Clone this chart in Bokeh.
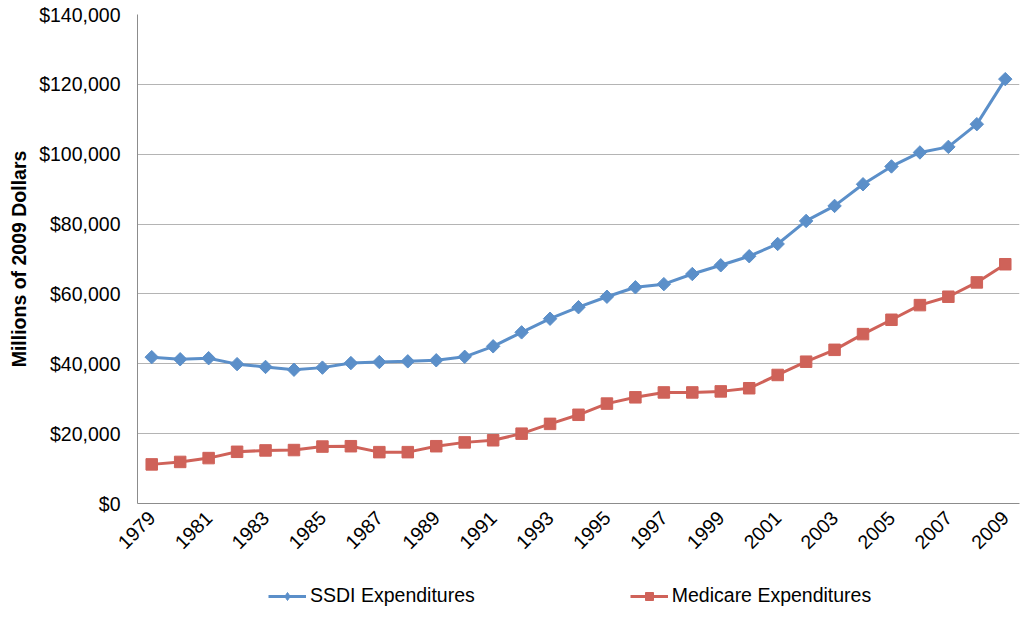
import math
from bokeh.plotting import figure
from bokeh.layouts import column
from bokeh.models import (Range1d, FixedTicker, NumeralTickFormatter, Legend, LegendItem)
from bokeh.embed import file_html
from bokeh.resources import INLINE

years = list(range(1979, 2010))
ssdi = [41900, 41300, 41600, 39900, 39100, 38300, 38900, 40200, 40500, 40700,
        41000, 42000, 45000, 49000, 52900, 56200, 59200, 61900, 62800, 65700,
        68200, 70800, 74300, 80900, 85200, 91400, 96500, 100500, 102100, 108600, 121500]
medicare = [11200, 11900, 13000, 14800, 15200, 15300, 16300, 16400, 14700, 14700,
            16400, 17500, 18100, 20000, 22800, 25400, 28600, 30400, 31800, 31800,
            32100, 33000, 36800, 40600, 44000, 48500, 52600, 56800, 59200, 63300, 68500]
tick_years = list(range(1979, 2010, 2))
y_ticks = list(range(0, 140001, 20000))
series_names = ["SSDI Expenditures", "Medicare Expenditures"]

FONT = "Liberation Sans"
FS = "19.5px"
BLUE = "#5B8FC9"
RED = "#CF6259"

p = figure(width=1031, height=560, output_backend="svg", toolbar_location=None,
           x_range=Range1d(1978.5, 2009.5), y_range=Range1d(0, 140000),
           min_border_left=137, min_border_right=12, min_border_top=14,
           min_border_bottom=57)
p.outline_line_color = None
p.background_fill_color = "white"
p.border_fill_color = "white"

p.line(years, ssdi, line_color=BLUE, line_width=3)
p.scatter(years, ssdi, marker="square", angle=math.pi / 4, size=9.5,
          fill_color=BLUE, line_color=BLUE)
p.line(years, medicare, line_color=RED, line_width=3)
p.scatter(years, medicare, marker="square", size=11.5, fill_color=RED, line_color=RED)

p.xaxis.ticker = FixedTicker(ticks=tick_years)
p.xaxis.major_label_overrides = {y: str(y) for y in tick_years}
p.xaxis.major_label_orientation = math.pi / 4
p.xaxis.major_tick_line_color = None
p.xaxis.minor_tick_line_color = None
p.xaxis.axis_line_color = "#8c8c8c"
p.xaxis.major_label_text_font = FONT
p.xaxis.major_label_text_font_size = FS
p.xaxis.major_label_text_color = "black"
p.xaxis.major_label_standoff = 5

p.yaxis.ticker = FixedTicker(ticks=y_ticks)
p.yaxis.formatter = NumeralTickFormatter(format="$0,0")
p.yaxis.major_tick_line_color = None
p.yaxis.minor_tick_line_color = None
p.yaxis.axis_line_color = "#8c8c8c"
p.yaxis.major_label_text_font = FONT
p.yaxis.major_label_text_font_size = FS
p.yaxis.major_label_text_color = "black"
p.yaxis.major_label_standoff = 11
p.yaxis.axis_label = "Millions of 2009 Dollars"
p.yaxis.axis_label_text_font = FONT
p.yaxis.axis_label_text_font_size = FS
p.yaxis.axis_label_text_font_style = "bold"
p.yaxis.axis_label_text_color = "black"
p.yaxis.axis_label_standoff = 6

p.xgrid.grid_line_color = None
p.ygrid.grid_line_color = "#b4b4b4"
p.ygrid.grid_line_width = 1

# Legend strip below the chart (renderers lie outside this strip's ranges)
lf = figure(width=1031, height=60, output_backend="svg", toolbar_location=None,
            x_range=Range1d(0, 1), y_range=Range1d(0, 1),
            min_border=0)
lf.axis.visible = False
lf.grid.visible = False
lf.outline_line_color = None
lf.border_fill_color = "white"
ll1 = lf.line(years, ssdi, line_color=BLUE, line_width=3)
ls1 = lf.scatter(years, ssdi, marker="diamond", size=15,
                 fill_color=BLUE, line_color=BLUE)
ll2 = lf.line(years, medicare, line_color=RED, line_width=3)
ls2 = lf.scatter(years, medicare, marker="square", size=11.5, fill_color=RED, line_color=RED)

legend = Legend(items=[LegendItem(label=series_names[0], renderers=[ll1, ls1]),
                       LegendItem(label=series_names[1], renderers=[ll2, ls2])],
                orientation="horizontal", location=(131, 13))
legend.label_text_font = FONT
legend.label_text_font_size = FS
legend.label_text_color = "black"
legend.glyph_width = 38
legend.glyph_height = 20
legend.label_standoff = 4
legend.spacing = 155
legend.border_line_color = None
legend.background_fill_alpha = 0
legend.margin = 0
legend.padding = 0
lf.add_layout(legend, "center")

layout = column(p, lf, spacing=0)
open("out.html", "w").write(file_html(layout, INLINE))
